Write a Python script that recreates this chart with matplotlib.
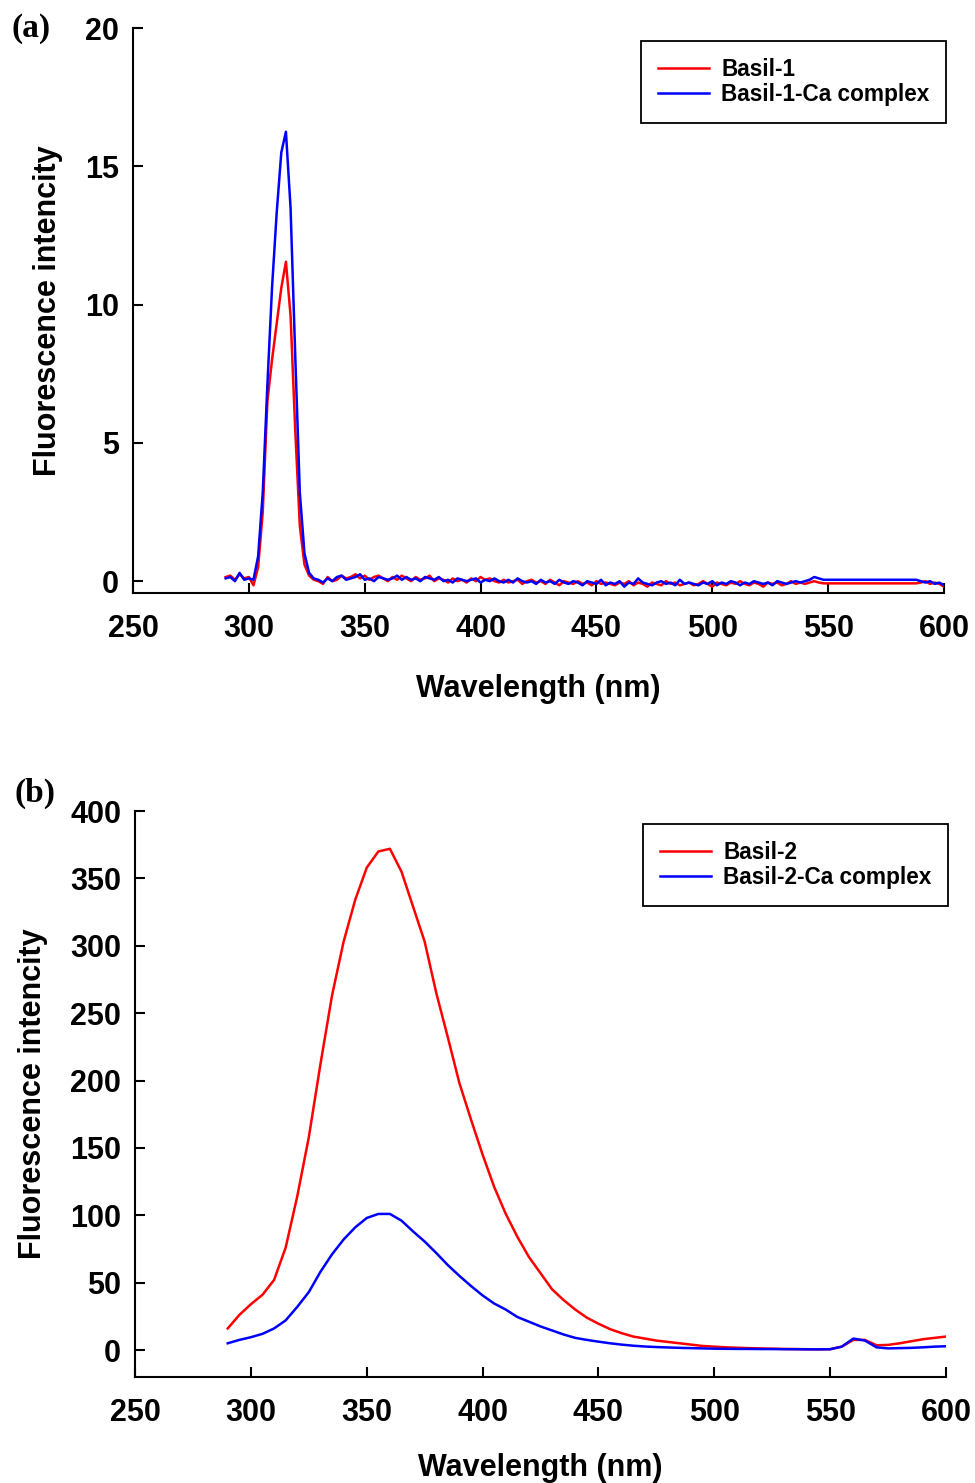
import numpy as np
import matplotlib
matplotlib.use("Agg")
import matplotlib.pyplot as plt

# ----------------------------
# Data, panel (a): 2 nm grid 290-600
# ----------------------------
wl_a = np.arange(290, 601, 2)

basil1 = [
    0.15, 0.20, 0.05, 0.25, 0.10, 0.15, -0.15,
    0.5, 2.5, 6.5, 8.0, 9.3, 10.6, 11.55, 9.6, 5.5, 2.0, 0.6, 0.2, 0.05,
    0.0, -0.1, 0.15, 0.0, 0.05, 0.2, 0.1, 0.15,
    0.25, 0.1, 0.2, 0.05, 0.15, 0.2, 0.1, 0.0,
    0.15, 0.05, 0.2, 0.1, 0.0, 0.15, 0.05, 0.1,
    0.2, 0.0, 0.1, 0.05, -0.05, 0.1, 0.0, 0.05,
    -0.05, 0.1, 0.0, 0.15, 0.05, 0.1, 0.0, -0.05,
    0.05, -0.05, 0.0, 0.05, -0.1, 0.0, 0.05, -0.05,
    0.0, -0.1, 0.05, -0.05, -0.15, 0.0, -0.05, -0.1,
    0.0, -0.1, -0.05, -0.15, 0.0, -0.1, -0.05, -0.1,
    -0.15, -0.05, -0.1, 0.0, -0.15, -0.05, -0.1, -0.2,
    -0.05, -0.1, -0.15, 0.0, -0.1, -0.05, -0.15, -0.1,
    -0.05, -0.15, -0.1, 0.0, -0.1, -0.2, -0.05, -0.1,
    -0.15, -0.05, -0.1, 0.0, -0.1, -0.15, -0.05, -0.1,
    -0.2, -0.05, -0.1, -0.05, -0.15, -0.1, 0.0, -0.1,
    -0.05, -0.1, -0.05, 0.0,
    -0.05] + [-0.08] * 21 + [
    -0.05, 0.0, -0.1, -0.05, -0.1, -0.2]

basil1_ca = [
    0.10, 0.15, 0.0, 0.30, 0.05, 0.10, 0.05,
    0.9, 3.2, 7.1, 10.6, 13.3, 15.5, 16.25, 13.5, 8.2, 3.2, 1.0, 0.3, 0.1,
    0.05, -0.05, 0.1, 0.0, 0.15, 0.2, 0.05, 0.1,
    0.15, 0.25, 0.05, 0.1, 0.0, 0.15, 0.1, 0.05,
    0.1, 0.2, 0.05, 0.15, 0.05, 0.1, 0.0, 0.15,
    0.1, 0.05, 0.15, 0.0, 0.05, -0.05, 0.1, 0.05,
    0.0, 0.05, 0.1, -0.05, 0.05, 0.0, 0.1, 0.0,
    -0.05, 0.05, -0.05, 0.1, 0.0, -0.05, 0.0, -0.1,
    0.05, -0.05, 0.0, -0.1, 0.05, -0.05, -0.1, 0.0,
    -0.05, -0.15, 0.0, -0.05, -0.1, 0.05, -0.15, -0.05,
    -0.1, 0.0, -0.2, -0.05, -0.1, 0.1, -0.05, -0.1,
    -0.15, -0.05, 0.0, -0.1, -0.05, -0.15, 0.05, -0.1,
    -0.05, -0.1, -0.15, -0.05, -0.1, 0.0, -0.15, -0.05,
    -0.1, 0.0, -0.05, -0.15, -0.05, -0.1, 0.0, -0.05,
    -0.1, -0.05, -0.15, 0.0, -0.05, -0.1, -0.05, 0.0,
    -0.05, 0.0, 0.05, 0.15,
    0.1] + [0.05] * 21 + [
    0.0, -0.05, 0.0, -0.1, -0.05, -0.15]

# ----------------------------
# Data, panel (b): 5 nm grid 290-600
# ----------------------------
wl_b = np.arange(290, 601, 5)

basil2 = [
    16, 26, 34, 41, 52, 76, 114, 158, 212, 263,
    303, 334, 358, 370, 372, 355, 329, 303, 265, 232,
    198, 171, 145, 121, 101, 84, 69, 57, 45, 37,
    30, 24, 19.5, 15.5, 12.5, 10, 8.5, 7, 6, 5,
    4, 3, 2.5, 2, 1.7, 1.4, 1.2, 1.0, 0.8, 0.7,
    0.6, 0.5, 0.6, 2.5, 7.5, 7.5, 3.5, 3.8, 5, 6.5,
    8, 9, 10]

basil2_ca = [
    5, 7.5, 9.5, 12, 16, 22, 32, 43, 58, 71,
    82, 91, 98, 101, 101, 96, 88, 80.5, 72, 63,
    55, 47.5, 40.5, 34.5, 30, 24.5, 21, 17.5, 14.5, 11.5,
    9, 7.5, 6.2, 5, 4, 3.2, 2.6, 2.2, 1.9, 1.6,
    1.4, 1.2, 1.0, 0.9, 0.8, 0.8, 0.7, 0.7, 0.6, 0.6,
    0.5, 0.5, 0.6, 2.5, 8.5, 7, 2, 1.2, 1.4, 1.6,
    2, 2.5, 2.8]

# ----------------------------
# Style
# ----------------------------
plt.rcParams["font.family"] = ["Liberation Sans", "DejaVu Sans"]
plt.rcParams["font.weight"] = "bold"

fig = plt.figure(figsize=(9.75, 14.83), dpi=100)
ax_a = fig.add_axes([0.1364, 0.6001, 0.8318, 0.3810])
ax_b = fig.add_axes([0.1385, 0.0715, 0.8318, 0.3816])


def style_axes(ax, ylim, yticks, xpad):
    ax.set_xlim(250, 600)
    ax.set_ylim(*ylim)
    ax.set_xticks(range(250, 601, 50))
    ax.set_yticks(yticks)
    for side in ("top", "right"):
        ax.spines[side].set_visible(False)
    for side in ("left", "bottom"):
        ax.spines[side].set_linewidth(1.5)
    ax.spines["left"].set_bounds(ylim[0], yticks[-1])
    ax.tick_params(direction="in", length=7, width=1.5, labelsize=22)
    ax.tick_params(axis="x", pad=15)
    ax.tick_params(axis="y", pad=10)
    ax.set_xlabel("Wavelength (nm)", fontsize=22, fontweight="bold", labelpad=xpad)
    ax.set_ylabel("Fluorescence intencity", fontsize=22, fontweight="bold", labelpad=16)
    for lbl in ax.get_xticklabels() + ax.get_yticklabels():
        lbl.set_fontweight("bold")


def add_legend(ax):
    leg = ax.legend(loc="upper right", bbox_to_anchor=(1.003, 0.977),
                    borderaxespad=0, fancybox=False, framealpha=1,
                    edgecolor="black", fontsize=16.3, handlelength=2.25,
                    handletextpad=0.55, labelspacing=0.1, borderpad=0.75)
    leg.get_frame().set_linewidth(1.3)
    for t in leg.get_texts():
        t.set_fontweight("bold")


# ----------------------------
# Panel (a)
# ----------------------------
ax_a.plot(wl_a, basil1, color="#ff0000", lw=1.8, label="Basil-1")
ax_a.plot(wl_a, basil1_ca, color="#0000ff", lw=1.8, label="Basil-1-Ca complex")
style_axes(ax_a, (-0.43, 20), [0, 5, 10, 15, 20], 22)
add_legend(ax_a)

# ----------------------------
# Panel (b)
# ----------------------------
ax_b.plot(wl_b, basil2, color="#ff0000", lw=1.8, label="Basil-2")
ax_b.plot(wl_b, basil2_ca, color="#0000ff", lw=1.8, label="Basil-2-Ca complex")
style_axes(ax_b, (-20, 400), list(range(0, 401, 50)), 18)
add_legend(ax_b)

fig.text(0.012, 0.981, "(a)", fontsize=24, fontweight="bold",
         family=["Liberation Serif", "DejaVu Serif"], va="center")
fig.text(0.015, 0.465, "(b)", fontsize=24, fontweight="bold",
         family=["Liberation Serif", "DejaVu Serif"], va="center")

fig.savefig("out.png", dpi=100)
plt.close(fig)
